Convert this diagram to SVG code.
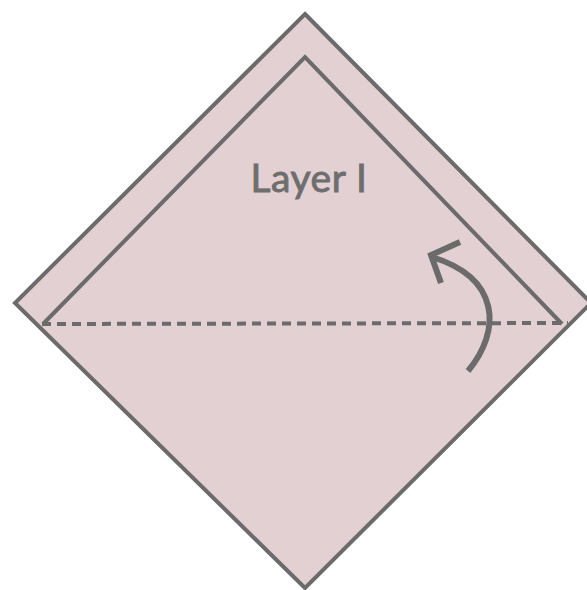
<svg xmlns="http://www.w3.org/2000/svg" width="587" height="590" viewBox="0 0 587 590">
<style>
.ln{fill:none;stroke:#6b6b6b;stroke-linejoin:miter}
.pg{fill:#e3d0d3;stroke:#6b6b6b;stroke-linejoin:miter}
.lbl{font-family:"Lato","Liberation Sans",sans-serif;font-size:39px;font-weight:normal;fill:#6e6e6e;stroke:#6e6e6e;stroke-width:0.9;letter-spacing:0.5px}
</style>
<rect width="587" height="590" fill="#ffffff"/>
<g id="outer-square">
<polygon points="305,14 591,303 305,588 15,303" class="pg" stroke-width="4"/>
</g>
<g id="layer1">
<polyline points="43,324 305,57 562,324" class="ln" stroke-width="4"/>
<text class="lbl" x="309" y="192" text-anchor="middle">Layer I</text>
</g>
<g id="connectors">
<line x1="42" y1="324" x2="568" y2="323" class="ln" stroke-width="4" stroke-dasharray="9,6"/>
<path d="M468,371 C502,330 500,278 432,257" class="ln" stroke-width="6"/>
<polyline points="460,242 431,255 441,283" class="ln" stroke-width="6"/>
</g>
</svg>
